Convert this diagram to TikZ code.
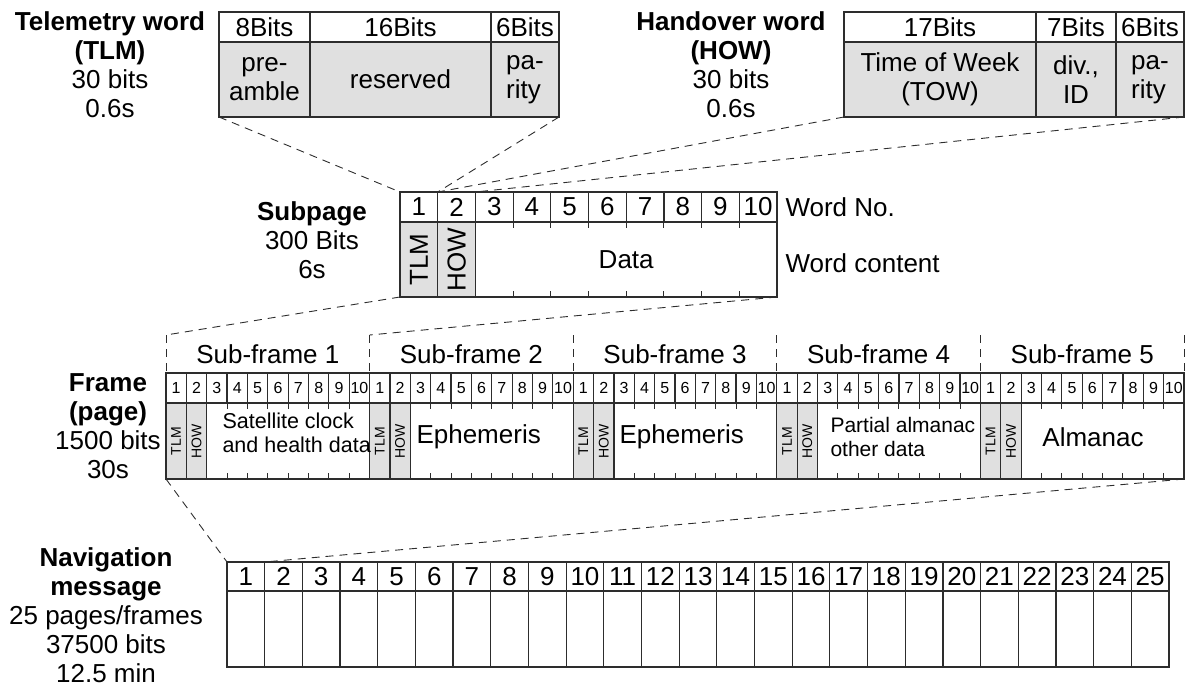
\documentclass[tikz,border=0pt]{standalone}
\usepackage{fontspec}
\setmainfont{Liberation Sans}
\usepackage{graphicx}
\usepackage{tikz}
\usetikzlibrary{positioning}
\definecolor{cellg}{RGB}{224,224,224}
\definecolor{linec}{RGB}{45,45,45}
\newcommand{\fsz}[2]{\fontsize{#1}{#2}\selectfont}

\begin{document}
\begin{tikzpicture}[x=1pt,y=-1pt,font=\fsz{26}{29},
  box/.style={draw=linec,line width=1.2pt,inner sep=0pt,outer sep=0pt,anchor=north west},
  gbox/.style={box,fill=cellg},
  proj/.style={draw=linec,line width=0.9pt,dash pattern=on 8pt off 6pt},
  tick/.style={draw=linec,line width=1pt},
  side/.style={align=center}]
  \useasboundingbox (0,0) rectangle (1188,691);
  \def\spw{37.7}
  \def\fw{20.36}
  \def\nw{37.68}
  % telemetry word: 8 + 16 + 6 bits
  \node[side] (tlmlbl) at (110,65) {\textbf{Telemetry word}\\\textbf{(TLM)}\\30 bits\\0.6s};
  \node[box,minimum width=91pt,minimum height=30pt] (tlmh1) at (219,12) {8Bits};
  \node[box,minimum width=181pt,minimum height=30pt] (tlmh2) at (310,12) {16Bits};
  \node[box,minimum width=68pt,minimum height=30pt] (tlmh3) at (491,12) {6Bits};
  \node[gbox,minimum width=91pt,minimum height=75pt,align=center] (tlmc1) at (219,42) {pre-\\amble};
  \node[gbox,minimum width=181pt,minimum height=75pt] (tlmc2) at (310,42) {reserved};
  \node[gbox,minimum width=68pt,minimum height=75pt,align=left] (tlmc3) at (491,42) {pa-\\rity};
  % handover word: 17 + 7 + 6 bits
  \node[side] (howlbl) at (731,65) {\textbf{Handover word}\\\textbf{(HOW)}\\30 bits\\0.6s};
  \node[box,minimum width=192pt,minimum height=30pt] (howh1) at (844,12) {17Bits};
  \node[box,minimum width=80pt,minimum height=30pt] (howh2) at (1036,12) {7Bits};
  \node[box,minimum width=68pt,minimum height=30pt] (howh3) at (1116,12) {6Bits};
  \node[gbox,minimum width=192pt,minimum height=75pt,align=center] (howc1) at (844,42) {Time of Week\\(TOW)};
  \node[gbox,minimum width=80pt,minimum height=75pt,align=center] (howc2) at (1036,42) {div.,\\ID};
  \node[gbox,minimum width=68pt,minimum height=75pt,align=left] (howc3) at (1116,42) {pa-\\rity};
  % subpage: 10 words
  \node[side] (splbl) at (312,240) {\textbf{Subpage}\\300 Bits\\6s};
  \foreach \i in {1,...,10}
    \node[box,minimum width=\spw pt,minimum height=30pt] (spn\i) at ({400+(\i-1)*\spw},192) {\i};
  \node[gbox,minimum width=\spw pt,minimum height=75pt] (spc1) at (400,222) {\rotatebox{90}{TLM}};
  \node[gbox,minimum width=\spw pt,minimum height=75pt] (spc2) at ({400+\spw},222) {\rotatebox{90}{HOW}};
  \node[box,minimum width=301.6pt,minimum height=75pt] (spdata) at ({400+2*\spw},222) {Data};
  \foreach \k in {1,...,7}{
    \draw[tick] ({400+(\k+2)*\spw},222) -- ++(0,6);
    \draw[tick] ({400+(\k+2)*\spw},297) -- ++(0,-6);
  }
  \node[anchor=west] (wordno) at (782,207) {Word No.};
  \node[anchor=west] (wordct) at (782,263) {Word content};
  % frame: 5 sub-frames of 10 words
  \node[side] (frlbl) at (108,426) {\textbf{Frame}\\\textbf{(page)}\\1500 bits\\30s};
  \foreach \k in {0,...,5}{
    \coordinate (sfa\k) at ({166+\k*10*\fw},335);
    \draw[proj] (sfa\k) -- ++(0,38);
  }
  \foreach \s in {0,...,4}{
    \pgfmathsetmacro{\xs}{166+\s*10*\fw}
    \pgfmathtruncatemacro{\sn}{\s+1}
    \node (sfl\sn) at ({\xs+5*\fw},354) {Sub-frame \sn};
    \foreach \i in {1,...,10}
      \node[box,minimum width=\fw pt,minimum height=30pt,font=\fsz{16}{18}] (fn\sn-\i) at ({\xs+(\i-1)*\fw},373) {\i};
    \node[gbox,minimum width=\fw pt,minimum height=76pt,font=\fsz{14}{14}] (ft\sn) at (\xs,403) {\rotatebox{90}{TLM}};
    \node[gbox,minimum width=\fw pt,minimum height=76pt,font=\fsz{14}{14}] (fh\sn) at ({\xs+\fw},403) {\rotatebox{90}{HOW}};
    \node[box,minimum width=162.88pt,minimum height=76pt] (fd\sn) at ({\xs+2*\fw},403) {};
    \foreach \k in {1,...,7}{
      \draw[tick] ({\xs+(\k+2)*\fw},403) -- ++(0,6);
      \draw[tick] ({\xs+(\k+2)*\fw},479) -- ++(0,-6);
    }
  }
  \node[anchor=west,align=left,font=\fsz{21.5}{24}] (sf1txt) at (219,433) {Satellite clock\\and health data};
  \node[anchor=west] (sf2txt) at (413,437) {Ephemeris};
  \node[anchor=west] (sf3txt) at (616,437) {Ephemeris};
  \node[anchor=west,align=left,font=\fsz{21}{24}] (sf4txt) at (827,437) {Partial almanac\\other data};
  \node (sf5txt) at (1093,437) {Almanac};
  % navigation message: 25 frames
  \node[side] (navlbl) at (106,615) {\textbf{Navigation}\\\textbf{message}\\25 pages/frames\\37500 bits\\12.5 min};
  \foreach \i in {1,...,25}{
    \node[box,minimum width=\nw pt,minimum height=29pt] (nn\i) at ({227+(\i-1)*\nw},562) {\i};
    \node[box,minimum width=\nw pt,minimum height=76pt] (nc\i) at ({227+(\i-1)*\nw},591) {};
  }
  % zoom lines
  \draw[proj] (tlmc1.south west) -- (spn1.north west);
  \draw[proj] (tlmc3.south east) -- (spn1.north east);
  \draw[proj] (howc1.south west) -- (spn2.north west);
  \draw[proj] (howc3.south east) -- (spn2.north east);
  \draw[proj] (spc1.south west) -- (sfa0);
  \draw[proj] (spdata.south east) -- (sfa1);
  \draw[proj] (ft1.south west) -- (nn1.north west);
  \draw[proj] (fd5.south east) -- (nn1.north east);
\end{tikzpicture}
\end{document}
